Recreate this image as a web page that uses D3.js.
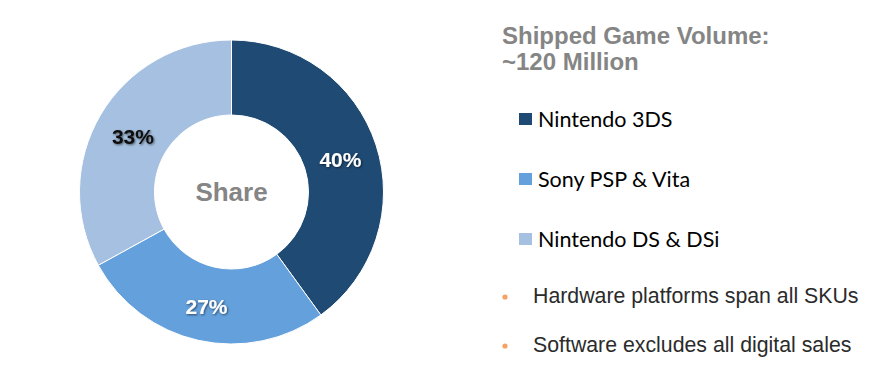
<!DOCTYPE html>
<html>
<head>
<meta charset="utf-8">
<script src="https://cdn.jsdelivr.net/npm/d3@7"></script>
<style>
  body { margin: 0; background: #fff; }
  svg { display: block; }
</style>
</head>
<body>
<script>
// Chart data
const platforms = ["Nintendo 3DS", "Sony PSP & Vita", "Nintendo DS & DSi"];
const shares = [40, 27, 33];
const colors = ["#1f4a73", "#64a0db", "#a5c0e0"];
const labelColors = ["#ffffff", "#ffffff", "#111111"];
const notes = ["Hardware platforms span all SKUs", "Software excludes all digital sales"];
const titleLines = ["Shipped Game Volume:", "~120 Million"];

const width = 875;
const height = 377;
const cx = 231.5, cy = 192;
const outerR = 152, innerR = 77;

const svg = d3.select("body")
  .append("svg")
  .attr("width", width)
  .attr("height", height);

// text shadow for slice labels
const defs = svg.append("defs");
const f = defs.append("filter").attr("id", "shadow")
  .attr("x", "-20%").attr("y", "-20%").attr("width", "140%").attr("height", "140%");
f.append("feDropShadow")
  .attr("dx", 1).attr("dy", 1).attr("stdDeviation", 0.8)
  .attr("flood-color", "#000").attr("flood-opacity", 0.55);

const pie = d3.pie().sort(null).value(d => d);
const arc = d3.arc().innerRadius(innerR).outerRadius(outerR);

const g = svg.append("g").attr("transform", `translate(${cx},${cy})`);

const arcs = pie(shares);

g.selectAll("path")
  .data(arcs)
  .enter()
  .append("path")
  .attr("d", arc)
  .style("fill", (d, i) => colors[i])
  .style("stroke", "#fff")
  .style("stroke-width", 1);

g.selectAll("text.pct")
  .data(arcs)
  .enter()
  .append("text")
  .attr("class", "pct")
  .attr("transform", d => {
    const [x, y] = arc.centroid(d);
    return `translate(${x},${y + 3})`;
  })
  .attr("text-anchor", "middle")
  .attr("dy", "0.36em")
  .attr("filter", "url(#shadow)")
  .style("font-family", "'Liberation Sans', Arial, sans-serif")
  .style("font-weight", "bold")
  .style("font-size", "21px")
  .style("fill", (d, i) => labelColors[i])
  .text(d => d.data + "%");

g.append("text")
  .attr("text-anchor", "middle")
  .attr("dy", "0.36em")
  .style("font-family", "'Liberation Sans', Arial, sans-serif")
  .style("font-weight", "bold")
  .style("font-size", "26px")
  .style("fill", "#858585")
  .text("Share");

// Title
svg.selectAll("text.title")
  .data(titleLines)
  .enter()
  .append("text")
  .attr("class", "title")
  .attr("x", 502)
  .attr("y", (d, i) => 44 + i * 26)
  .style("font-family", "'Liberation Sans', Arial, sans-serif")
  .style("font-weight", "bold")
  .style("font-size", "24px")
  .style("fill", "#858585")
  .text(d => d);

// Legend
const legend = svg.append("g").attr("transform", "translate(519,0)");
platforms.forEach((p, i) => {
  const row = legend.append("g").attr("transform", `translate(0, ${113 + i * 60})`);
  row.append("rect")
    .attr("width", 13)
    .attr("height", 12)
    .style("fill", colors[i]);
  row.append("text")
    .attr("x", 19)
    .attr("y", 14)
    .style("font-family", "Lato, 'Open Sans', sans-serif")
    .style("font-size", "21.5px")
    .style("fill", "#000")
    .text(p);
});

// Notes with bullets
notes.forEach((n, i) => {
  const y = 303 + i * 49;
  svg.append("circle")
    .attr("cx", 505)
    .attr("cy", y - 6)
    .attr("r", 2.6)
    .style("fill", "#f5a263");
  svg.append("text")
    .attr("x", 533)
    .attr("y", y)
    .style("font-family", "'Liberation Sans', Arial, sans-serif")
    .style("font-size", "21.3px")
    .style("fill", "#2b2b2b")
    .text(n);
});
</script>
</body>
</html>
